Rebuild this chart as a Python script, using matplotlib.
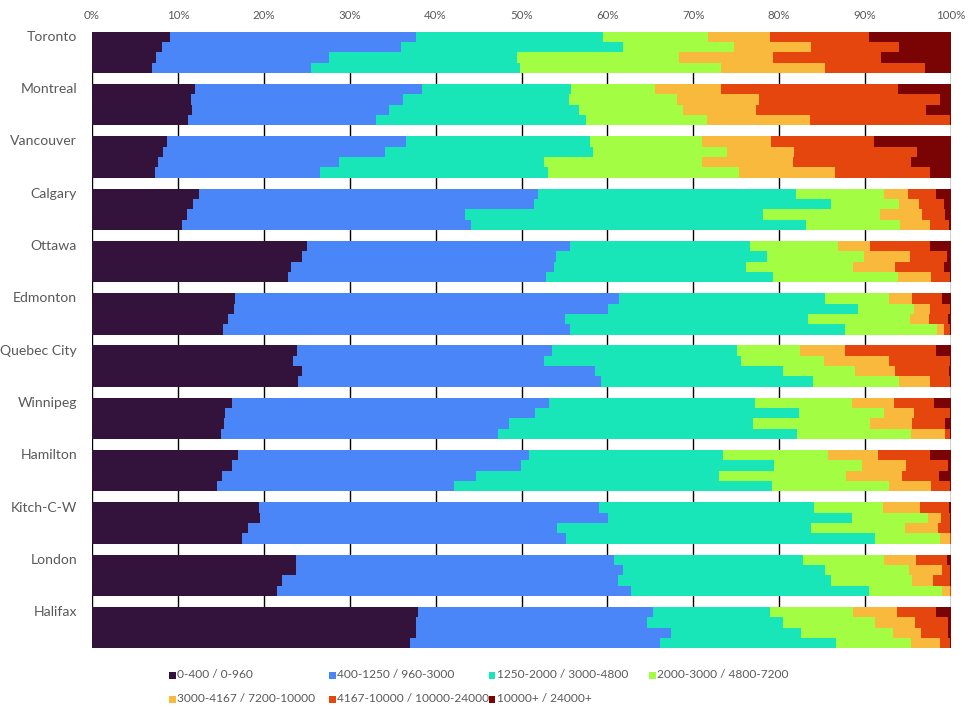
import matplotlib
matplotlib.use("Agg")
import matplotlib.pyplot as plt
from matplotlib.patches import Rectangle
import numpy as np

cities = ["Toronto", "Montreal", "Vancouver", "Calgary", "Ottawa", "Edmonton",
          "Quebec City", "Winnipeg", "Hamilton", "Kitch-C-W", "London", "Halifax"]

bins = ["0-400 / 0-960", "400-1250 / 960-3000", "1250-2000 / 3000-4800",
        "2000-3000 / 4800-7200", "3000-4167 / 7200-10000",
        "4167-10000 / 10000-24000", "10000+ / 24000+"]

colors = ["#33123B", "#4A86F7", "#18E6B8", "#A3FD42", "#F9B93C", "#E4460E", "#7A0403"]

# cumulative right edges (%) of the first six bins, four bars per city
toronto = [[9.1, 37.7, 59.5, 71.7, 78.9, 90.5], [8.15, 36.0, 61.8, 74.7, 83.7, 93.9],
           [7.45, 27.6, 49.5, 68.3, 79.3, 91.8], [7.0, 25.5, 49.8, 73.2, 85.3, 97.0]]
montreal = [[12.0, 38.4, 55.8, 65.5, 73.2, 93.8], [11.5, 36.2, 55.5, 68.1, 77.6, 98.7],
            [11.6, 34.6, 56.7, 68.8, 77.3, 97.1], [11.2, 33.1, 57.5, 71.6, 83.6, 99.9]]
vancouver = [[8.7, 36.6, 58.0, 71.0, 79.0, 91.0], [8.3, 34.1, 58.3, 73.9, 81.7, 96.1],
             [7.7, 28.8, 52.6, 71.0, 81.6, 95.4], [7.3, 26.5, 53.1, 75.3, 86.5, 97.6]]
calgary = [[12.4, 51.9, 81.9, 92.2, 95.0, 98.2], [11.7, 51.4, 86.0, 93.9, 96.3, 99.2],
           [11.1, 43.4, 78.1, 91.7, 96.6, 99.3], [10.5, 44.1, 83.1, 94.1, 97.6, 99.8]]
ottawa = [[25.0, 55.7, 76.6, 86.8, 90.6, 97.5], [24.5, 54.0, 78.6, 89.9, 95.2, 99.5],
          [23.2, 53.8, 76.1, 88.6, 93.5, 99.2], [22.8, 52.8, 79.3, 93.8, 97.7, 99.9]]
edmonton = [[16.6, 61.4, 85.3, 92.8, 95.5, 98.9], [16.5, 60.1, 89.2, 95.7, 97.5, 99.9],
            [15.8, 55.1, 83.4, 95.2, 97.4, 99.7], [15.3, 55.7, 87.7, 98.4, 99.2, 99.9]]
quebec = [[23.9, 53.5, 75.1, 82.4, 87.7, 98.3], [23.4, 52.6, 75.6, 85.2, 92.8, 99.9],
          [24.5, 58.6, 80.5, 88.8, 93.5, 99.8], [24.0, 59.2, 83.9, 94.0, 97.6, 99.9]]
winnipeg = [[16.3, 53.2, 77.2, 88.5, 93.4, 98.0], [15.5, 51.6, 82.3, 92.2, 95.7, 99.9],
            [15.4, 48.5, 77.0, 90.6, 95.5, 99.3], [15.0, 47.3, 82.1, 95.3, 99.3, 99.9]]
hamilton = [[17.0, 50.9, 73.4, 85.7, 91.5, 97.5], [16.3, 49.9, 79.4, 89.6, 94.8, 99.6],
            [15.1, 44.7, 73.0, 87.8, 94.3, 98.6], [14.6, 42.1, 79.2, 92.8, 97.7, 99.9]]
kitchener = [[19.4, 59.0, 84.0, 92.1, 96.4, 99.8], [19.6, 60.1, 88.5, 97.3, 98.8, 99.9],
             [18.2, 54.1, 83.7, 94.6, 98.5, 99.9], [17.5, 55.2, 91.2, 98.7, 99.9, 100.0]]
london = [[23.8, 60.8, 82.8, 92.2, 95.9, 99.5], [23.7, 61.8, 85.3, 95.1, 98.9, 99.9],
          [22.1, 61.2, 86.0, 95.5, 97.9, 99.9], [21.5, 62.8, 90.5, 98.9, 99.9, 100.0]]
halifax = [[38.0, 65.3, 78.9, 88.6, 93.7, 98.3], [37.7, 64.6, 80.5, 91.2, 95.8, 99.7],
           [37.7, 67.4, 82.5, 93.2, 96.5, 99.6], [37.0, 66.1, 86.6, 95.4, 98.7, 99.9]]

city_edges = [toronto, montreal, vancouver, calgary, ottawa, edmonton,
              quebec, winnipeg, hamilton, kitchener, london, halifax]

xticks = [0, 10, 20, 30, 40, 50, 60, 70, 80, 90, 100]
xtick_labels = ["0%", "10%", "20%", "30%", "40%", "50%", "60%", "70%", "80%", "90%", "100%"]

plt.rcParams['font.family'] = ['Lato', 'DejaVu Sans']
GREY = "#595959"

W, H = 973, 717
fig = plt.figure(figsize=(W / 100, H / 100), dpi=100)
ax_top, ax_bot = 31.7, 648.3
ax = fig.add_axes([92 / W, 1 - ax_bot / H, (951 - 92) / W, (ax_bot - ax_top) / H])

bar_h = 0.1975
n_rows = 4
for i, edges in enumerate(city_edges):
    for j, row in enumerate(edges):
        full = [0.0] + list(row) + [100.0]
        widths = np.diff(full)
        y = i + j * bar_h + bar_h / 2
        ax.barh([y] * 7, widths, left=full[:-1], height=bar_h, color=colors,
                linewidth=0, zorder=2)
    ax.annotate(cities[i], xy=(0, i + bar_h / 2), xycoords=('axes fraction', 'data'),
                xytext=(-15 * 72 / 100, 0), textcoords='offset points',
                ha='right', va='center', fontsize=10.1, color=GREY)

ax.set_xlim(0, 100)
ax.set_ylim(11 + n_rows * bar_h, 0)
ax.set_yticks([])
ax.set_xticks(xticks)
ax.set_xticklabels(xtick_labels)
ax.xaxis.tick_top()
ax.tick_params(axis='x', length=0, pad=8, labelsize=8.3, labelcolor=GREY)
ax.set_axisbelow(True)
ax.xaxis.grid(True, color='black', linewidth=1, zorder=0)
for s in ax.spines.values():
    s.set_visible(False)

# legend
col_x = [172, 332, 492, 652]
row_y = [675, 699]
sq = 7
for k, (lab, c) in enumerate(zip(bins, colors)):
    cx = col_x[k % 4]
    cy = row_y[k // 4]
    fig.add_artist(Rectangle(((cx - sq / 2) / W, 1 - (cy + sq / 2) / H), sq / W, sq / H,
                             transform=fig.transFigure, facecolor=c, edgecolor='none'))
    fig.text((cx + 5) / W, 1 - cy / H, lab, ha='left', va='center',
             fontsize=8.6, color=GREY)

fig.savefig("out.png", dpi=100)
